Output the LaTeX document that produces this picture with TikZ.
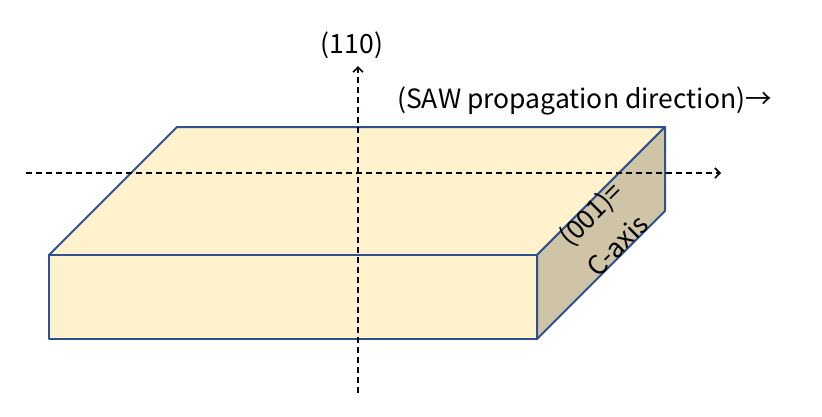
\documentclass[tikz,border=0pt]{standalone}
\usepackage{fontspec}
\setmainfont{Noto Sans CJK JP}
\usepackage{xcolor}
\usetikzlibrary{calc,arrows.meta}
\definecolor{slabfill}{RGB}{255,242,204}
\definecolor{slabside}{RGB}{207,196,166}
\definecolor{slabedge}{RGB}{47,82,143}
\tikzset{
  face/.style={draw=slabedge,line width=2pt,line join=round,fill=slabfill},
  axis/.style={line width=1.6pt,dash pattern=on 6pt off 4pt,-{Straight Barb[length=5pt,width=10pt]}},
  lbl/.style={font=\fontsize{26.5}{30}\selectfont,inner sep=0pt}
}
\begin{document}
\begin{tikzpicture}[x=1pt,y=-1pt]
				\useasboundingbox (0,0) rectangle (822,416);
				\coordinate (A) at (49,255);
				\coordinate (B) at (537,255);
				\coordinate (C) at (537,339);
				\coordinate (D) at (49,339);
				\coordinate (E) at (177,127);
				\coordinate (F) at (665,127);
				\coordinate (G) at (665,211);
				\coordinate (P) at (358,393);
				\coordinate (Q) at (358,66);
				\coordinate (R) at (26,173);
				\coordinate (S) at (721,173);
				\draw[face] (A)--(E)--(F)--(B)--cycle;
				\draw[face] (A)--(B)--(C)--(D)--cycle;
				\draw[face,fill=slabside] (B)--(F)--(G)--(C)--cycle;
				\draw[axis] (P)--(Q);
				\draw[axis] (R)--(S);
				\node[lbl] (n110) at (352,45) {(110)};
				\node[lbl,anchor=west] (saw) at (397,101) {(SAW propagation direction)→};
				\node[lbl,rotate=45] (c001) at (592,215) {(001)=};
				\node[lbl,rotate=45] (caxis) at (617,245) {C-axis};
			\end{tikzpicture}
\end{document}
